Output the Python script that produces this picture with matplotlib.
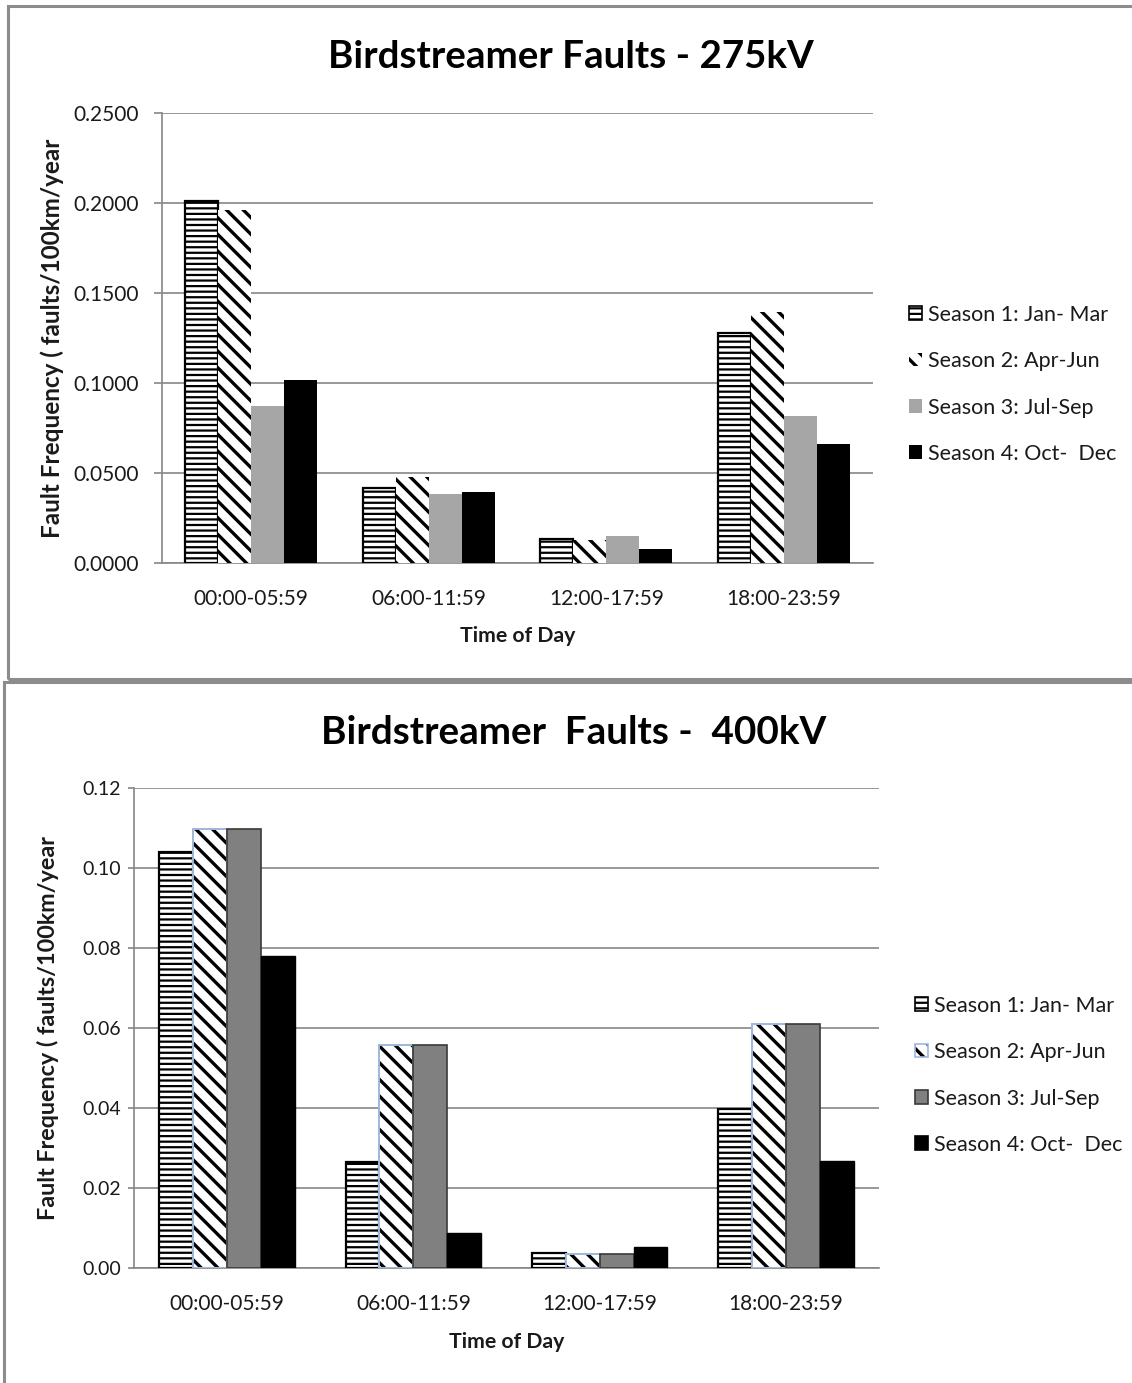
import matplotlib
matplotlib.use("Agg")
import matplotlib.pyplot as plt
from matplotlib.patches import Rectangle
import matplotlib.colors as mcolors
import numpy as np

plt.rcParams['font.family'] = ['Lato', 'DejaVu Sans']
plt.rcParams['hatch.linewidth'] = 1.8

categories = ["00:00-05:59", "06:00-11:59", "12:00-17:59", "18:00-23:59"]
season_labels = ["Season 1: Jan- Mar", "Season 2: Apr-Jun", "Season 3: Jul-Sep", "Season 4: Oct-  Dec"]

# fault frequency, faults/100km/year
kv275_s1 = [0.2011, 0.0417, 0.0133, 0.1278]
kv275_s2 = [0.1960, 0.0478, 0.0128, 0.1394]
kv275_s3 = [0.0872, 0.0383, 0.0150, 0.0817]
kv275_s4 = [0.1017, 0.0394, 0.0078, 0.0661]

kv400_s1 = [0.1040, 0.0265, 0.0037, 0.0398]
kv400_s2 = [0.1098, 0.0558, 0.0036, 0.0610]
kv400_s3 = [0.1098, 0.0558, 0.0036, 0.0610]
kv400_s4 = [0.0780, 0.0088, 0.0053, 0.0268]

W, H = 1132, 1383
fig = plt.figure(figsize=(W / 100, H / 100), dpi=100)

GRID = "#868686"
TXT = "#1a1a1a"
BLACK = mcolors.to_rgba("black")


def px_axes(left, top, right, bottom):
    return fig.add_axes([left / W, 1 - bottom / H, (right - left) / W, (bottom - top) / H])


def panel_frame(x0, y0, x1, y1):
    fig.add_artist(Rectangle((x0 / W, 1 - y1 / H), (x1 - x0) / W, (y1 - y0) / H,
                             transform=fig.transFigure, fill=False,
                             edgecolor="#8c8c8c", linewidth=2.2, zorder=0))


def style_hatch(patch, st):
    if st.get("hatch"):
        patch._hatch_color = BLACK
        if hasattr(patch, "set_hatch_linewidth"):
            patch.set_hatch_linewidth(st["hlw"])


def draw_panel(ax, series, styles, ymax, ystep, fmt, bar_w, tick_pad, tick_len,
               ytick_size, xpad, labelpad, ylab_size, ylab_x):
    x = np.arange(len(categories))
    n = len(series)
    for i, (vals, st) in enumerate(zip(series, styles)):
        offs = (i - (n - 1) / 2) * bar_w
        bars = ax.bar(x + offs, vals, width=bar_w, color=st["face"], edgecolor=st["edge"],
                      linewidth=st["lw"], hatch=st.get("hatch"), zorder=3)
        for b in bars:
            style_hatch(b, st)
    ax.set_xlim(-0.5, len(categories) - 0.5)
    ax.set_ylim(0, ymax)
    ticks = np.arange(0, ymax + ystep / 2, ystep)
    ax.set_yticks(ticks)
    ax.set_yticklabels([fmt.format(t) for t in ticks])
    ax.set_xticks(x)
    ax.set_xticklabels(categories)
    ax.yaxis.grid(True, color=GRID, linewidth=1.2, zorder=0)
    ax.set_axisbelow(True)
    for s in ("top", "right"):
        ax.spines[s].set_visible(False)
    for s in ("left", "bottom"):
        ax.spines[s].set_color(GRID)
        ax.spines[s].set_linewidth(1.2)
    ax.tick_params(axis="y", length=tick_len, color=GRID, width=1.2, labelsize=ytick_size,
                   labelcolor=TXT, pad=tick_pad)
    ax.tick_params(axis="x", length=0, labelsize=15, labelcolor=TXT, pad=xpad)
    ax.set_xlabel("Time of Day", fontsize=15.3, fontweight="bold", color=TXT,
                  labelpad=labelpad)
    ax.set_ylabel("Fault Frequency ( faults/100km/year", fontsize=ylab_size,
                  fontweight="bold", color=TXT)
    ax.yaxis.label.set_verticalalignment("center")
    ax.yaxis.set_label_coords(ylab_x, 0.5)


def add_legend(styles, anchor_x, anchor_y):
    hs = [Rectangle((0, 0), 1, 1, facecolor=st["face"], edgecolor=st["edge_leg"],
                    linewidth=1.2, hatch=st.get("hatch")) for st in styles]
    leg = fig.legend(hs, season_labels, loc="upper left",
                     bbox_to_anchor=(anchor_x / W, 1 - anchor_y / H), frameon=False,
                     fontsize=15.5, handlelength=0.62, handleheight=0.62,
                     handletextpad=0.3, labelspacing=1.23, borderaxespad=0,
                     labelcolor=TXT)
    for h, st in zip(leg.legend_handles, styles):
        style_hatch(h, st)
    return leg


# ---- 275 kV panel ----
panel_frame(8, 6, 1140, 679)
ax1 = px_axes(162, 113, 873, 563)
styles275 = [
    dict(face="white", edge="black", lw=1.6, hatch="---", hlw=1.6, edge_leg="black"),
    dict(face="white", edge="none", lw=0, hatch="\\\\", hlw=2.4, edge_leg="none"),
    dict(face="#a6a6a6", edge="none", lw=0, edge_leg="none"),
    dict(face="black", edge="none", lw=0, edge_leg="none"),
]
draw_panel(ax1, [kv275_s1, kv275_s2, kv275_s3, kv275_s4], styles275,
           0.25, 0.05, "{:.4f}", 0.186, tick_pad=11, tick_len=5.5, ytick_size=15,
           xpad=18.5, labelpad=12.5, ylab_size=17.5, ylab_x=(52 - 162) / 711)
fig.text(571 / W, 1 - 57 / H, "Birdstreamer Faults - 275kV", ha="center", va="center",
         fontsize=27.7, fontweight="bold", color="black")
add_legend(styles275, 900, 296)

# ---- 400 kV panel ----
panel_frame(4, 682, 1140, 1400)
ax2 = px_axes(134, 788, 879, 1268)
styles400 = [
    dict(face="white", edge="black", lw=1.6, hatch="---", hlw=1.6, edge_leg="black"),
    dict(face="white", edge="#9db8dc", lw=1.4, hatch="\\\\", hlw=2.4, edge_leg="#9db8dc"),
    dict(face="#808080", edge="#3a3a3a", lw=1.2, edge_leg="#3a3a3a"),
    dict(face="black", edge="black", lw=1.0, edge_leg="black"),
]
draw_panel(ax2, [kv400_s1, kv400_s2, kv400_s3, kv400_s4], styles400,
           0.12, 0.02, "{:.2f}", 0.182, tick_pad=5, tick_len=4.3, ytick_size=14,
           xpad=19, labelpad=12.5, ylab_size=16.8, ylab_x=(48 - 134) / 745)
fig.text(574 / W, 1 - 733 / H, "Birdstreamer  Faults -  400kV", ha="center", va="center",
         fontsize=27.8, fontweight="bold", color="black")
add_legend(styles400, 906, 987)

fig.savefig("out.png", dpi=100, facecolor="white")
